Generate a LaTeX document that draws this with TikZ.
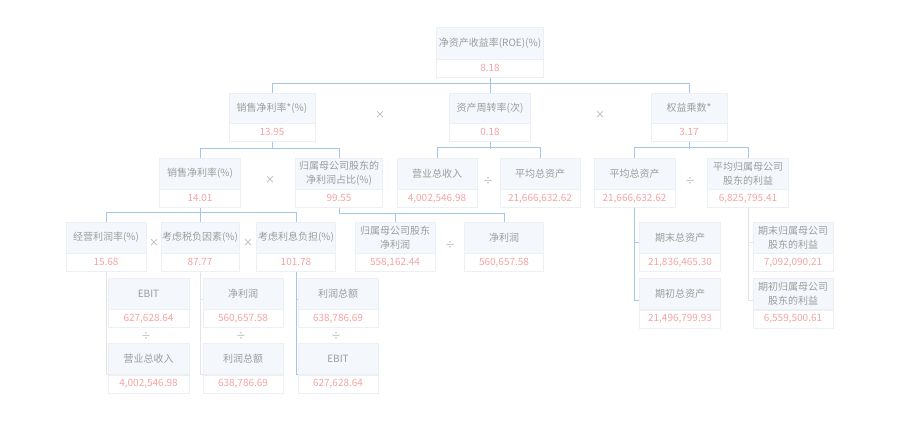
\documentclass[tikz,border=0pt]{standalone}
\usepackage{fontspec}
\setmainfont{Noto Sans CJK SC}
\usepackage{xcolor}
\usepackage{tikz}
\usetikzlibrary{positioning}

\definecolor{linkblue}{HTML}{A3C6EA}
\definecolor{faintgray}{HTML}{E4E4E4}
\definecolor{boxfill}{HTML}{F4F8FC}
\definecolor{boxline}{HTML}{ECF0F5}
\definecolor{ttlgray}{HTML}{9C9C9C}
\definecolor{valred}{HTML}{F4A5A5}
\definecolor{opgray}{HTML}{AAAAAA}

\begin{document}
\begin{tikzpicture}[
    x=1pt, y=-1pt,
    font=\fontsize{10}{14}\selectfont,
    ttl/.style={rectangle, draw=boxline, fill=boxfill, text=ttlgray, minimum width=80pt, minimum height=31pt, inner sep=1pt, align=center},
    val/.style={rectangle, draw=boxline, fill=white, text=valred, minimum width=80pt, minimum height=18pt, inner sep=1pt},
    op/.style={text=opgray, inner sep=0pt},
    link/.style={draw=linkblue, line width=0.8pt},
    faint/.style={draw=faintgray, line width=0.8pt}
]
\useasboundingbox[fill=white] (0,0) rectangle (913,429);

% top
\node[ttl, minimum width=107pt, minimum height=32pt] (roe-t) at (490,43) {净资产收益率(ROE)(\%)};
\node[val, minimum width=107pt, below=0pt of roe-t] (roe-v) {8.18};

% second row
\node[ttl, minimum width=86pt, minimum height=30pt] (npm1-t) at (272,108) {销售净利率*(\%)};
\node[val, minimum width=86pt, below=0pt of npm1-t] (npm1-v) {13.95};
\node[ttl, minimum width=81pt, minimum height=30pt] (at-t) at (490,108) {资产周转率(次)};
\node[val, minimum width=81pt, below=0pt of at-t] (at-v) {0.18};
\node[ttl, minimum width=76pt, minimum height=30pt] (em-t) at (689,108) {权益乘数*};
\node[val, minimum width=76pt, below=0pt of em-t] (em-v) {3.17};
\node[op] (x1) at (380,115) {×};
\node[op] (x2) at (600,115) {×};

% third row
\node[ttl, minimum width=81pt] (npm-t) at (200,173.5) {销售净利率(\%)};
\node[val, minimum width=81pt, below=0pt of npm-t] (npm-v) {14.01};
\node[ttl, minimum width=87pt] (nps-t) at (339,173.5) {归属母公司股东的\\净利润占比(\%)};
\node[val, minimum width=87pt, below=0pt of nps-t] (nps-v) {99.55};
\node[ttl] (rev-t) at (437,173.5) {营业总收入};
\node[val, below=0pt of rev-t] (rev-v) {4,002,546.98};
\node[ttl] (ta-t) at (540,173.5) {平均总资产};
\node[val, below=0pt of ta-t] (ta-v) {21,666,632.62};
\node[ttl, minimum width=81pt] (ta2-t) at (634.5,173.5) {平均总资产};
\node[val, minimum width=81pt, below=0pt of ta2-t] (ta2-v) {21,666,632.62};
\node[ttl, minimum width=81pt] (eq-t) at (748,173.5) {平均归属母公司\\股东的利益};
\node[val, minimum width=81pt, below=0pt of eq-t] (eq-v) {6,825,795.41};
\node[op] (x3) at (270,180) {×};
\node[op] (d1) at (488,181) {÷};
\node[op] (d2) at (690,181) {÷};

% fourth row
\node[ttl] (opm-t) at (106,237.5) {经营利润率(\%)};
\node[val, below=0pt of opm-t] (opm-v) {15.68};
\node[ttl, minimum width=78pt] (tax-t) at (200,237.5) {考虑税负因素(\%)};
\node[val, minimum width=78pt, below=0pt of tax-t] (tax-v) {87.77};
\node[ttl, minimum width=79pt] (int-t) at (296,237.5) {考虑利息负担(\%)};
\node[val, minimum width=79pt, below=0pt of int-t] (int-v) {101.78};
\node[ttl] (npp-t) at (395,237.5) {归属母公司股东\\净利润};
\node[val, below=0pt of npp-t] (npp-v) {558,162.44};
\node[ttl, minimum width=79pt] (np-t) at (504,237.5) {净利润};
\node[val, minimum width=79pt, below=0pt of np-t] (np-v) {560,657.58};
\node[ttl, minimum width=81pt] (tae-t) at (680,237.5) {期末总资产};
\node[val, minimum width=81pt, below=0pt of tae-t] (tae-v) {21,836,465.30};
\node[ttl] (eqe-t) at (793,237.5) {期末归属母公司\\股东的利益};
\node[val, below=0pt of eqe-t] (eqe-v) {7,092,090.21};
\node[op] (x4) at (154,243) {×};
\node[op] (x5) at (248,243) {×};
\node[op] (d3) at (450,245) {÷};

% fifth row
\node[ttl, minimum width=81pt] (ebit1-t) at (148.5,293.5) {EBIT};
\node[val, minimum width=81pt, below=0pt of ebit1-t] (ebit1-v) {627,628.64};
\node[ttl] (np2-t) at (243,293.5) {净利润};
\node[val, below=0pt of np2-t] (np2-v) {560,657.58};
\node[ttl] (tp3-t) at (338,293.5) {利润总额};
\node[val, below=0pt of tp3-t] (tp3-v) {638,786.69};
\node[ttl, minimum width=81pt] (tab-t) at (680,294) {期初总资产};
\node[val, minimum width=81pt, below=0pt of tab-t] (tab-v) {21,496,799.93};
\node[ttl] (eqb-t) at (793,294) {期初归属母公司\\股东的利益};
\node[val, below=0pt of eqb-t] (eqb-v) {6,559,500.61};
\node[op] (d4) at (146,336) {÷};
\node[op] (d5) at (241,336) {÷};
\node[op] (d6) at (336,336) {÷};

% sixth row
\node[ttl, minimum width=81pt] (rev2-t) at (148.5,359) {营业总收入};
\node[val, minimum width=81pt, below=0pt of rev2-t] (rev2-v) {4,002,546.98};
\node[ttl] (tp2-t) at (243,359) {利润总额};
\node[val, below=0pt of tp2-t] (tp2-v) {638,786.69};
\node[ttl] (ebit2-t) at (338,359) {EBIT};
\node[val, below=0pt of ebit2-t] (ebit2-v) {627,628.64};

% connectors
\draw[link] (npm1-t.north) -- ++(0,-9) -| (em-t.north);
\draw[link] (roe-v.south) -- (at-t.north);
\draw[link] (npm-t.north) -- ++(0,-9) -| (nps-t.north);
\draw[link] (npm1-v.south) -- ++(0,7);
\draw[link] (rev-t.north) -- ++(0,-10) -| (ta-t.north);
\draw[link] (at-v.south) -- ++(0,7);
\draw[link] (ta2-t.north) -- ++(0,-10) -| (eq-t.north);
\draw[link] (em-v.south) -- ++(0,7);
\draw[link] (opm-t.north) -- ++(0,-9) -| (int-t.north);
\draw[link] (npm-v.south) -- (tax-t.north);
\draw[link] (nps-v.south) -- ++(0,6) -| (np-t.north);
\draw[link] (npp-t.north) -- ++(0,-9);
\draw[link] (int-v.south) |- ([yshift=-6pt]tp3-t.west);
\draw[link] (int-v.south) |- (ebit2-t.south west);
\draw[link] (ta2-v.south) |- ([yshift=-5pt]tae-t.west);
\draw[link] (ta2-v.south) |- ([yshift=-6pt]tab-t.west);
\draw[faint] (opm-v.south) |- ([yshift=-6pt]ebit1-t.west);
\draw[faint] (opm-v.south) |- (rev2-t.south west);
\draw[faint] (tax-v.south) |- ([yshift=-6pt]np2-t.west);
\draw[faint] (tax-v.south) |- (tp2-t.south west);
\draw[faint] (eq-v.south) |- ([yshift=-5pt]eqe-t.west);
\draw[faint] (eq-v.south) |- ([yshift=-6pt]eqb-t.west);

\end{tikzpicture}
\end{document}
